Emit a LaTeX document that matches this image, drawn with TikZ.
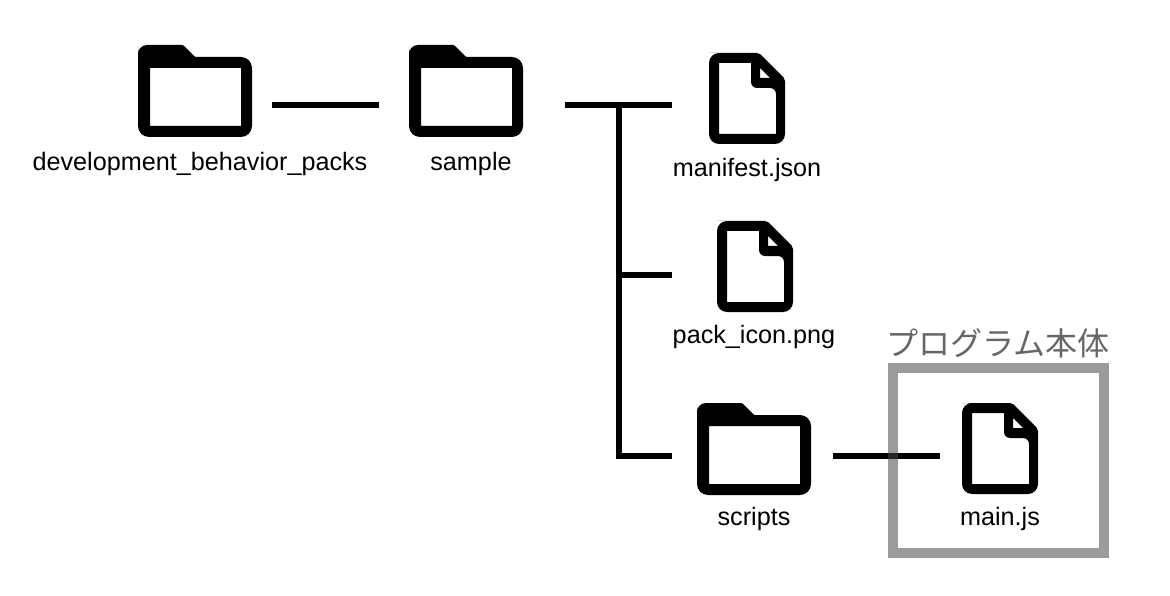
\documentclass[tikz,border=0pt]{standalone}
\usepackage{fontspec}
\setmainfont{Liberation Sans}
\newfontfamily\cjk{Noto Sans CJK JP}
\definecolor{framegray}{HTML}{9B9B9B}
\definecolor{notegray}{HTML}{666666}
\tikzset{
  x=1pt,y=-1pt,
  wire/.style={line width=6pt,black},
  frameline/.style={framegray,line width=10pt},
  lbl/.style={inner sep=0pt,font=\fontsize{25.2}{28}\selectfont,text=black,anchor=center},
  % folder icon, origin at the top left of its outline
  pics/foldericon/.style={code={
    \fill[black,even odd rule]
      [rounded corners=11pt] (0,12) [rounded corners=9pt] -- (0,0) [rounded corners=1pt] -- (45,0) -- (57,12)
      [rounded corners=11pt] -- (114,12) -- (114,92) -- (0,92) -- cycle
      [sharp corners] (12,23) rectangle (103,81);
  }},
  % file icon with turned corner, origin at the top left of its outline
  pics/fileicon/.style={code={
    \fill[black,even odd rule]
      [rounded corners=10pt] (0,0) [rounded corners=2pt] -- (50,0) -- (76,26)
      [rounded corners=10pt] -- (76,91) -- (0,91) -- (0,0) -- (25,0)
      [sharp corners] (10,10) -- (42,10) [rounded corners=6pt] -- (42,35) -- (67,35)
      [sharp corners] -- (67,81) -- (10,81) -- cycle
      (51,15) -- (61,25) -- (51,25) -- cycle;
  }}
}
\begin{document}
\begin{tikzpicture}
\useasboundingbox (0,0) rectangle (1170,596);
\coordinate (a1) at (272,105); \coordinate (a2) at (379,105);
\coordinate (b1) at (565,105); \coordinate (b2) at (672,105);
\coordinate (c0) at (618.5,105); \coordinate (c1) at (618.5,455.5);
\coordinate (d2) at (672,274.7); \coordinate (d0) at (618.5,274.7);
\coordinate (e2) at (672,455.5);
\coordinate (f1) at (833,455.5); \coordinate (f2) at (940,455.5);
\draw[wire] (a1)--(a2);
\draw[wire] (b1)--(b2);
\draw[wire] (c0)--(c1)--(e2);
\draw[wire] (d0)--(d2);
\draw[frameline] (893,368) rectangle (1104,553);
\draw[wire] (f1)--(f2);
% the frame lies faintly over the connector that crosses it
\draw[frameline,opacity=0.25] (893,368) rectangle (1104,553);
\pic at (138,45) {foldericon};
\pic at (409,45) {foldericon};
\pic at (697,403) {foldericon};
\pic at (709,53) {fileicon};
\pic at (717,221) {fileicon};
\pic at (962,403) {fileicon};
\node[lbl] (n1) at (200,164) {development\_behavior\_packs};
\node[lbl] (n2) at (471,164) {sample};
\node[lbl] (n3) at (747,170) {manifest.json};
\node[lbl] (n4) at (754,337) {pack\_icon.png};
\node[lbl] (n5) at (754,519) {scripts};
\node[lbl] (n6) at (1000,519) {main.js};
\node[inner sep=0pt,text=notegray] (n7) at (998,343.5) {\cjk\fontsize{32}{36}\selectfont プログラム本体};
\end{tikzpicture}
\end{document}
